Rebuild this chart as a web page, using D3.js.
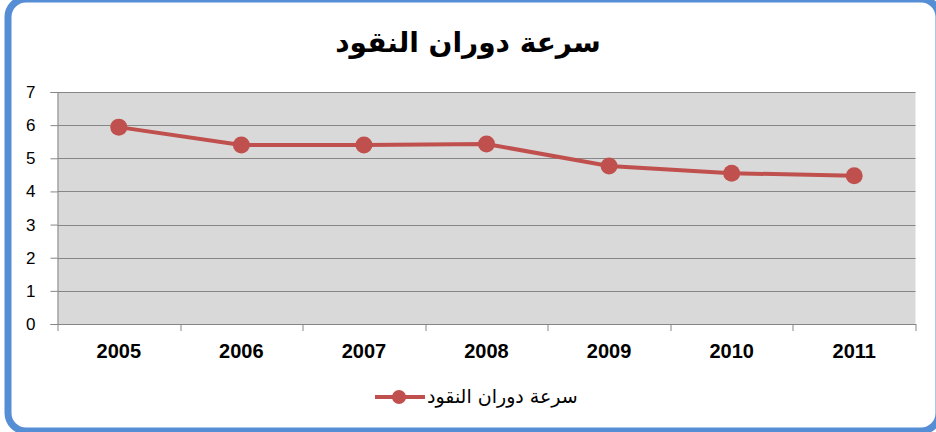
<!DOCTYPE html>
<html>
<head>
<meta charset="utf-8">
<script src="https://cdn.jsdelivr.net/npm/d3@7"></script>
<style>
  body { margin: 0; background: #fff; }
  svg { display: block; }
</style>
</head>
<body>
<div id="chart"></div>
<script>
const title = 'سرعة دوران النقود';
const seriesName = 'سرعة دوران النقود';
const years = ['2005', '2006', '2007', '2008', '2009', '2010', '2011'];
const velocity = [5.94, 5.40, 5.40, 5.43, 4.77, 4.55, 4.47];
const yTicks = [0, 1, 2, 3, 4, 5, 6, 7];

let W = 936, H = 432;
let margin = {top: 92, right: 20, bottom: 108, left: 57.5};
let width = 915.5 - margin.left;
let height = 324 - margin.top;

let svg = d3.select('#chart')
  .append('svg')
  .attr('width', W)
  .attr('height', H);

// outer rounded frame
svg.append('rect')
  .attr('x', 8).attr('y', -1)
  .attr('width', 931).attr('height', 432)
  .attr('rx', 18).attr('ry', 18)
  .attr('fill', '#fff')
  .attr('stroke', '#558ed5')
  .attr('stroke-width', 7);

svg.append('text')
  .attr('x', 468)
  .attr('y', 52)
  .attr('text-anchor', 'middle')
  .attr('font-family', 'DejaVu Sans, sans-serif')
  .attr('font-weight', 'bold')
  .attr('font-size', 28)
  .attr('direction', 'rtl')
  .text(title);

let g = svg.append('g')
  .attr('transform', `translate(${margin.left},${margin.top})`);

let x = d3.scaleBand().domain(years).range([0, width]);
let y = d3.scaleLinear().domain([0, 7]).range([height, 0]);

g.append('rect')
  .attr('width', width)
  .attr('height', height)
  .attr('fill', '#d9d9d9');

g.append('g')
  .attr('class', 'grid')
  .selectAll('line')
  .data(yTicks.filter(d => d > 0))
  .enter()
  .append('line')
  .attr('x1', 0).attr('x2', width)
  .attr('y1', d => Math.round(y(d)) + 0.5)
  .attr('y2', d => Math.round(y(d)) + 0.5)
  .attr('stroke', '#868686');

let yAxis = g.append('g')
  .call(d3.axisLeft(y).tickValues(yTicks).tickSize(7).tickPadding(15).tickFormat(d3.format('d')));
yAxis.select('.domain').attr('stroke', '#868686');
yAxis.selectAll('.tick line').attr('stroke', '#868686');
yAxis.selectAll('text')
  .attr('font-family', 'Liberation Sans, Arial, sans-serif')
  .attr('font-size', 17)
  .attr('fill', '#000');

let xAxis = g.append('g')
  .attr('transform', `translate(0,${height})`)
  .call(d3.axisBottom(x).tickSize(0).tickPadding(20));
xAxis.select('.domain').attr('stroke', '#868686');
xAxis.selectAll('text')
  .attr('font-family', 'Liberation Sans, Arial, sans-serif')
  .attr('font-weight', 'bold')
  .attr('font-size', 20)
  .attr('fill', '#000');

// category boundary tick marks
g.append('g')
  .selectAll('line')
  .data(years.concat(['end']))
  .enter()
  .append('line')
  .attr('x1', (d, i) => Math.round(i * x.step()) + 0.5)
  .attr('x2', (d, i) => Math.round(i * x.step()) + 0.5)
  .attr('y1', height)
  .attr('y2', height + 7)
  .attr('stroke', '#868686');

let line = d3.line()
  .x((d, i) => x(years[i]) + x.bandwidth() / 2)
  .y(d => y(d));

g.append('path')
  .datum(velocity)
  .attr('d', line)
  .attr('fill', 'none')
  .attr('stroke', '#c0504d')
  .attr('stroke-width', 4);

g.append('g')
  .selectAll('circle')
  .data(velocity)
  .enter()
  .append('circle')
  .attr('cx', (d, i) => x(years[i]) + x.bandwidth() / 2)
  .attr('cy', d => y(d))
  .attr('r', 8.5)
  .attr('fill', '#c0504d');

// legend
let legend = svg.append('g').attr('transform', 'translate(375,397)');
legend.append('line')
  .attr('x1', 0).attr('x2', 50)
  .attr('stroke', '#c0504d')
  .attr('stroke-width', 4);
legend.append('circle')
  .attr('cx', 24).attr('r', 7)
  .attr('fill', '#c0504d');
legend.append('text')
  .attr('x', 52)
  .attr('y', 6)
  .attr('font-family', 'DejaVu Sans, sans-serif')
  .attr('font-size', 19)
  .attr('text-anchor', 'start')
  .text(seriesName);
</script>
</body>
</html>
